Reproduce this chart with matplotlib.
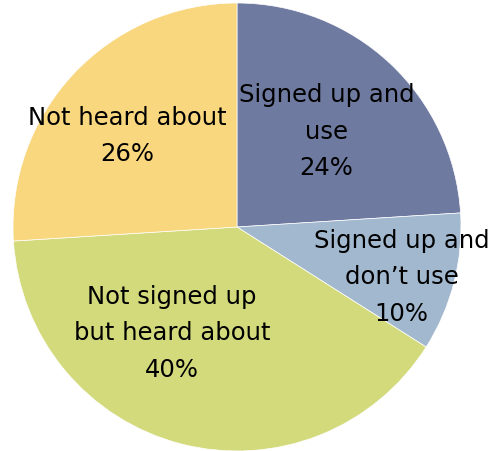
import matplotlib
matplotlib.use("Agg")
import matplotlib.pyplot as plt

# data
labels = ["Signed up and\nuse", "Signed up and\ndon\u2019t use",
          "Not signed up\nbut heard about", "Not heard about"]
shares = [24, 10, 40, 26]
colors = ["#6F7AA0", "#A2B8CF", "#D3DA7C", "#F9D77E"]

# label centres, offset from pie centre in radius units
label_pos = [(0.40, 0.43), (0.735, -0.22), (-0.29, -0.47), (-0.49, 0.41)]

W, H = 488, 452
cx, cy, r = 237, 228, 224   # pie centre / radius in pixels

fig = plt.figure(figsize=(W / 100, H / 100), dpi=100)
ax = fig.add_axes([0, 0, 1, 1])

wedges, _ = ax.pie(shares, colors=colors, startangle=90, counterclock=False,
                   radius=1.0, wedgeprops=dict(edgecolor="white", linewidth=0.5))

for lab, val, (dx, dy) in zip(labels, shares, label_pos):
    ax.text(dx, dy, "%s\n%d%%" % (lab, val), ha="center", va="center",
            fontsize=17.5, linespacing=1.65, color="black")

ax.set_xlim(-cx / r, (W - cx) / r)
ax.set_ylim(-(H - cy) / r, cy / r)
ax.set_aspect("auto")
ax.axis("off")

fig.savefig("out.png", dpi=100)
